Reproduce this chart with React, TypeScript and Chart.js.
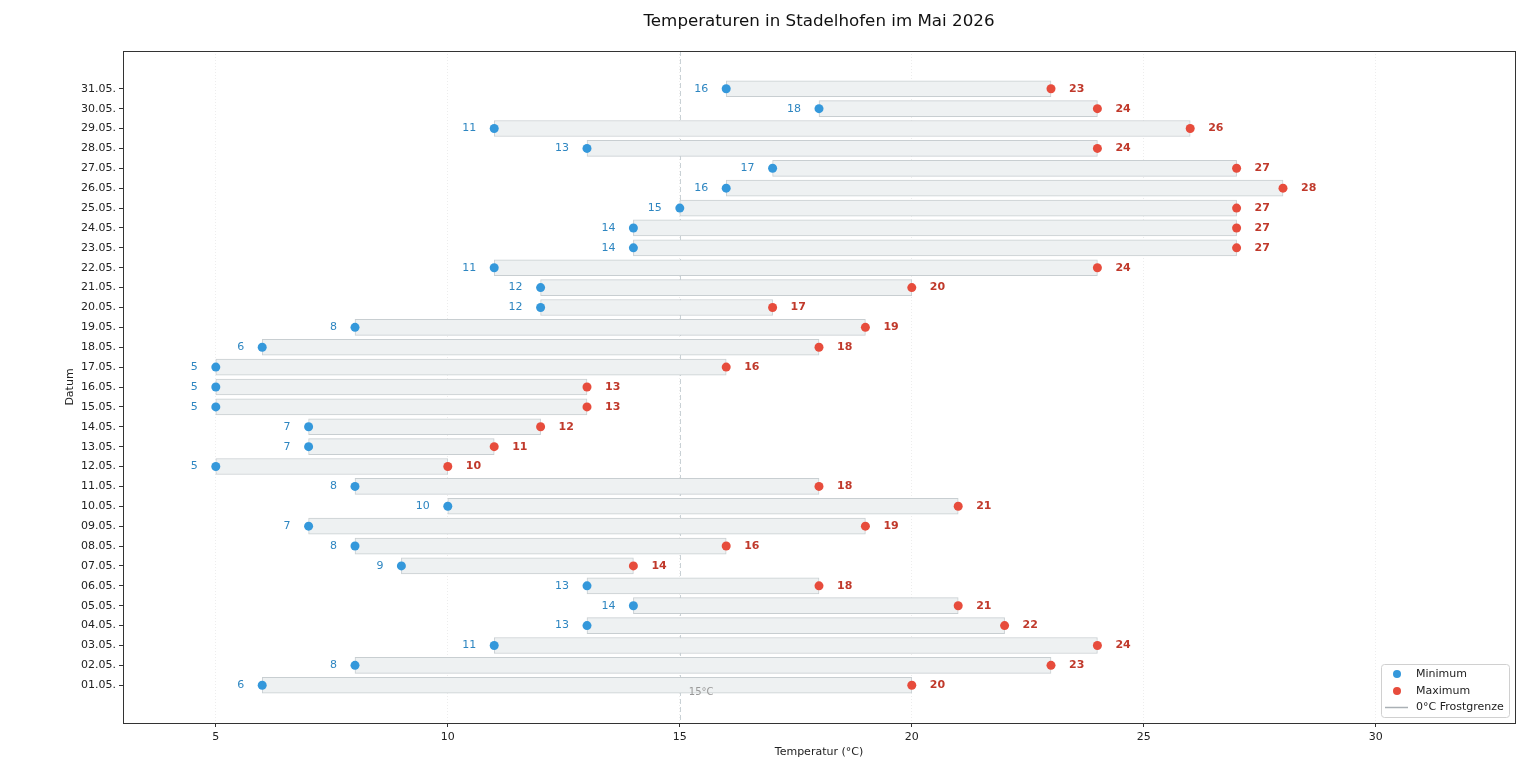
import React, { useEffect, useRef } from "react";
import { Chart, registerables } from "chart.js";

Chart.register(...registerables);

const dates = [
  "01.05.", "02.05.", "03.05.", "04.05.", "05.05.", "06.05.", "07.05.", "08.05.", "09.05.", "10.05.",
  "11.05.", "12.05.", "13.05.", "14.05.", "15.05.", "16.05.", "17.05.", "18.05.", "19.05.", "20.05.",
  "21.05.", "22.05.", "23.05.", "24.05.", "25.05.", "26.05.", "27.05.", "28.05.", "29.05.", "30.05.", "31.05.",
];
const minTemps = [6, 8, 11, 13, 14, 13, 9, 8, 7, 10, 8, 5, 7, 7, 5, 5, 5, 6, 8, 12, 12, 11, 14, 14, 15, 16, 17, 13, 11, 18, 16];
const maxTemps = [20, 23, 24, 22, 21, 18, 14, 16, 19, 21, 18, 10, 11, 12, 13, 13, 16, 18, 19, 17, 20, 24, 27, 27, 27, 28, 27, 24, 26, 24, 23];
const xTicks = [5, 10, 15, 20, 25, 30];
const refLine = 15;
const refLabel = "15°C";
const title = "Temperaturen in Stadelhofen im Mai 2026";
const xTitle = "Temperatur (°C)";
const yTitle = "Datum";
const legendLabels = ["Minimum", "Maximum", "0°C Frostgrenze"];

const FONT = "'DejaVu Sans', sans-serif";
const BLUE = "#3498db";
const RED = "#e74c3c";

export default function App() {
  const ref = useRef<HTMLCanvasElement | null>(null);
  useEffect(() => {
    document.body.style.margin = "0";
    document.body.style.overflow = "hidden";
    const canvas = ref.current!;
    const overlay = {
      id: "overlay",
      beforeDatasetsDraw(chart: any) {
        const { ctx, chartArea: a, scales } = chart;
        const x = scales.x.getPixelForValue(refLine);
        ctx.save();
        ctx.strokeStyle = "#c9d1d5";
        ctx.lineWidth = 1;
        ctx.setLineDash([5, 3]);
        ctx.beginPath();
        ctx.moveTo(Math.round(x) + 0.5, a.top);
        ctx.lineTo(Math.round(x) + 0.5, a.bottom);
        ctx.stroke();
        ctx.restore();
      },
      afterDraw(chart: any) {
        const { ctx, chartArea: a, scales } = chart;
        const sx = scales.x, sy = scales.y;
        ctx.save();
        ctx.strokeStyle = "#333";
        ctx.lineWidth = 1;
        ctx.strokeRect(a.left + 0.5, a.top + 0.5, a.right - a.left, a.bottom - a.top);
        ctx.textBaseline = "middle";
        for (let i = 0; i < dates.length; i++) {
          const y = sy.getPixelForValue(i);
          ctx.font = `11px ${FONT}`;
          ctx.fillStyle = "#2e86c1";
          ctx.textAlign = "right";
          ctx.fillText(String(minTemps[i]), sx.getPixelForValue(minTemps[i]) - 18, y);
          ctx.font = `bold 11px ${FONT}`;
          ctx.fillStyle = "#c0392b";
          ctx.textAlign = "left";
          ctx.fillText(String(maxTemps[i]), sx.getPixelForValue(maxTemps[i]) + 18, y);
        }
        ctx.font = `10px ${FONT}`;
        ctx.fillStyle = "#999";
        ctx.textAlign = "left";
        ctx.fillText(refLabel, sx.getPixelForValue(refLine) + 9, sy.getPixelForValue(0) + 7);
        ctx.font = `16.7px ${FONT}`;
        ctx.fillStyle = "#111";
        ctx.textAlign = "center";
        const cx = (a.left + a.right) / 2;
        ctx.fillText(title, cx, 22);
        ctx.font = `11px ${FONT}`;
        ctx.fillStyle = "#222";
        ctx.fillText(xTitle, cx, 752);
        ctx.save();
        ctx.translate(70, (a.top + a.bottom) / 2);
        ctx.rotate(-Math.PI / 2);
        ctx.fillText(yTitle, 0, 0);
        ctx.restore();
        const lx = 1381, ly = 664, lw = 128, lh = 53;
        ctx.fillStyle = "rgba(255,255,255,0.9)";
        ctx.strokeStyle = "#d0d0d0";
        ctx.beginPath();
        ctx.roundRect(lx + 0.5, ly + 0.5, lw, lh, 3);
        ctx.fill();
        ctx.stroke();
        ctx.font = `11px ${FONT}`;
        ctx.textAlign = "left";
        const rows = [674, 691, 707];
        ctx.fillStyle = BLUE;
        ctx.beginPath(); ctx.arc(1397, rows[0], 4, 0, Math.PI * 2); ctx.fill();
        ctx.fillStyle = RED;
        ctx.beginPath(); ctx.arc(1397, rows[1], 4, 0, Math.PI * 2); ctx.fill();
        ctx.strokeStyle = "#aab0b5";
        ctx.lineWidth = 1.5;
        ctx.beginPath(); ctx.moveTo(1385, rows[2] + 0.5); ctx.lineTo(1408, rows[2] + 0.5); ctx.stroke();
        ctx.fillStyle = "#222";
        legendLabels.forEach((t, k) => ctx.fillText(t, 1416, rows[k]));
        ctx.restore();
      },
    };
    const chart = new Chart(canvas, {
      type: "bar",
      data: {
        datasets: [
          {
            type: "scatter",
            label: legendLabels[0],
            data: minTemps.map((v, i) => ({ x: v, y: i })),
            backgroundColor: BLUE,
            borderWidth: 0,
            pointRadius: 4.5,
            order: 1,
          } as any,
          {
            type: "scatter",
            label: legendLabels[1],
            data: maxTemps.map((v, i) => ({ x: v, y: i })),
            backgroundColor: RED,
            borderWidth: 0,
            pointRadius: 4.5,
            order: 1,
          } as any,
          {
            type: "bar",
            label: "range",
            data: minTemps.map((v, i) => ({ x: [v, maxTemps[i]], y: i })),
            backgroundColor: "#eef1f2",
            borderColor: "#c8ced1",
            borderWidth: 1,
            borderSkipped: false,
            barThickness: 16,
            indexAxis: "y",
            order: 2,
          } as any,
        ],
      },
      options: {
        indexAxis: "y",
        responsive: false,
        animation: false,
        layout: { padding: { top: 51, right: 21, left: 0, bottom: 0 } },
        plugins: { legend: { display: false }, tooltip: { enabled: false }, title: { display: false } },
        scales: {
          x: {
            type: "linear",
            position: "bottom",
            min: 3,
            max: 33,
            offset: false,
            afterBuildTicks: (s: any) => { s.ticks = xTicks.map((v) => ({ value: v })); },
            afterFit: (s: any) => { s.height = 51; },
            grid: { color: "rgba(0,0,0,0.07)", tickColor: "#333", tickLength: 4, drawOnChartArea: true, offset: false },
            border: { display: false, dash: [1, 2] },
            ticks: { color: "#222", font: { family: FONT, size: 11 }, padding: 4, maxRotation: 0 },
          },
          y: {
            type: "linear",
            min: -1.9,
            max: 31.9,
            offset: false,
            afterBuildTicks: (s: any) => { s.ticks = dates.map((_, i) => ({ value: i })); },
            afterFit: (s: any) => { s.width = 123; },
            grid: { drawOnChartArea: false, tickColor: "#333", tickLength: 4, offset: false },
            border: { display: false },
            ticks: {
              color: "#222",
              font: { family: FONT, size: 11 },
              padding: 3,
              autoSkip: false,
              callback: (v: any) => dates[v] ?? "",
            },
          },
        },
      },
      plugins: [overlay],
    } as any);
    return () => chart.destroy();
  }, []);
  return (
    <div style={{ width: 1536, height: 774 }}>
      <canvas ref={ref} width={1536} height={774} style={{ display: "block", width: 1536, height: 774 }} />
    </div>
  );
}
